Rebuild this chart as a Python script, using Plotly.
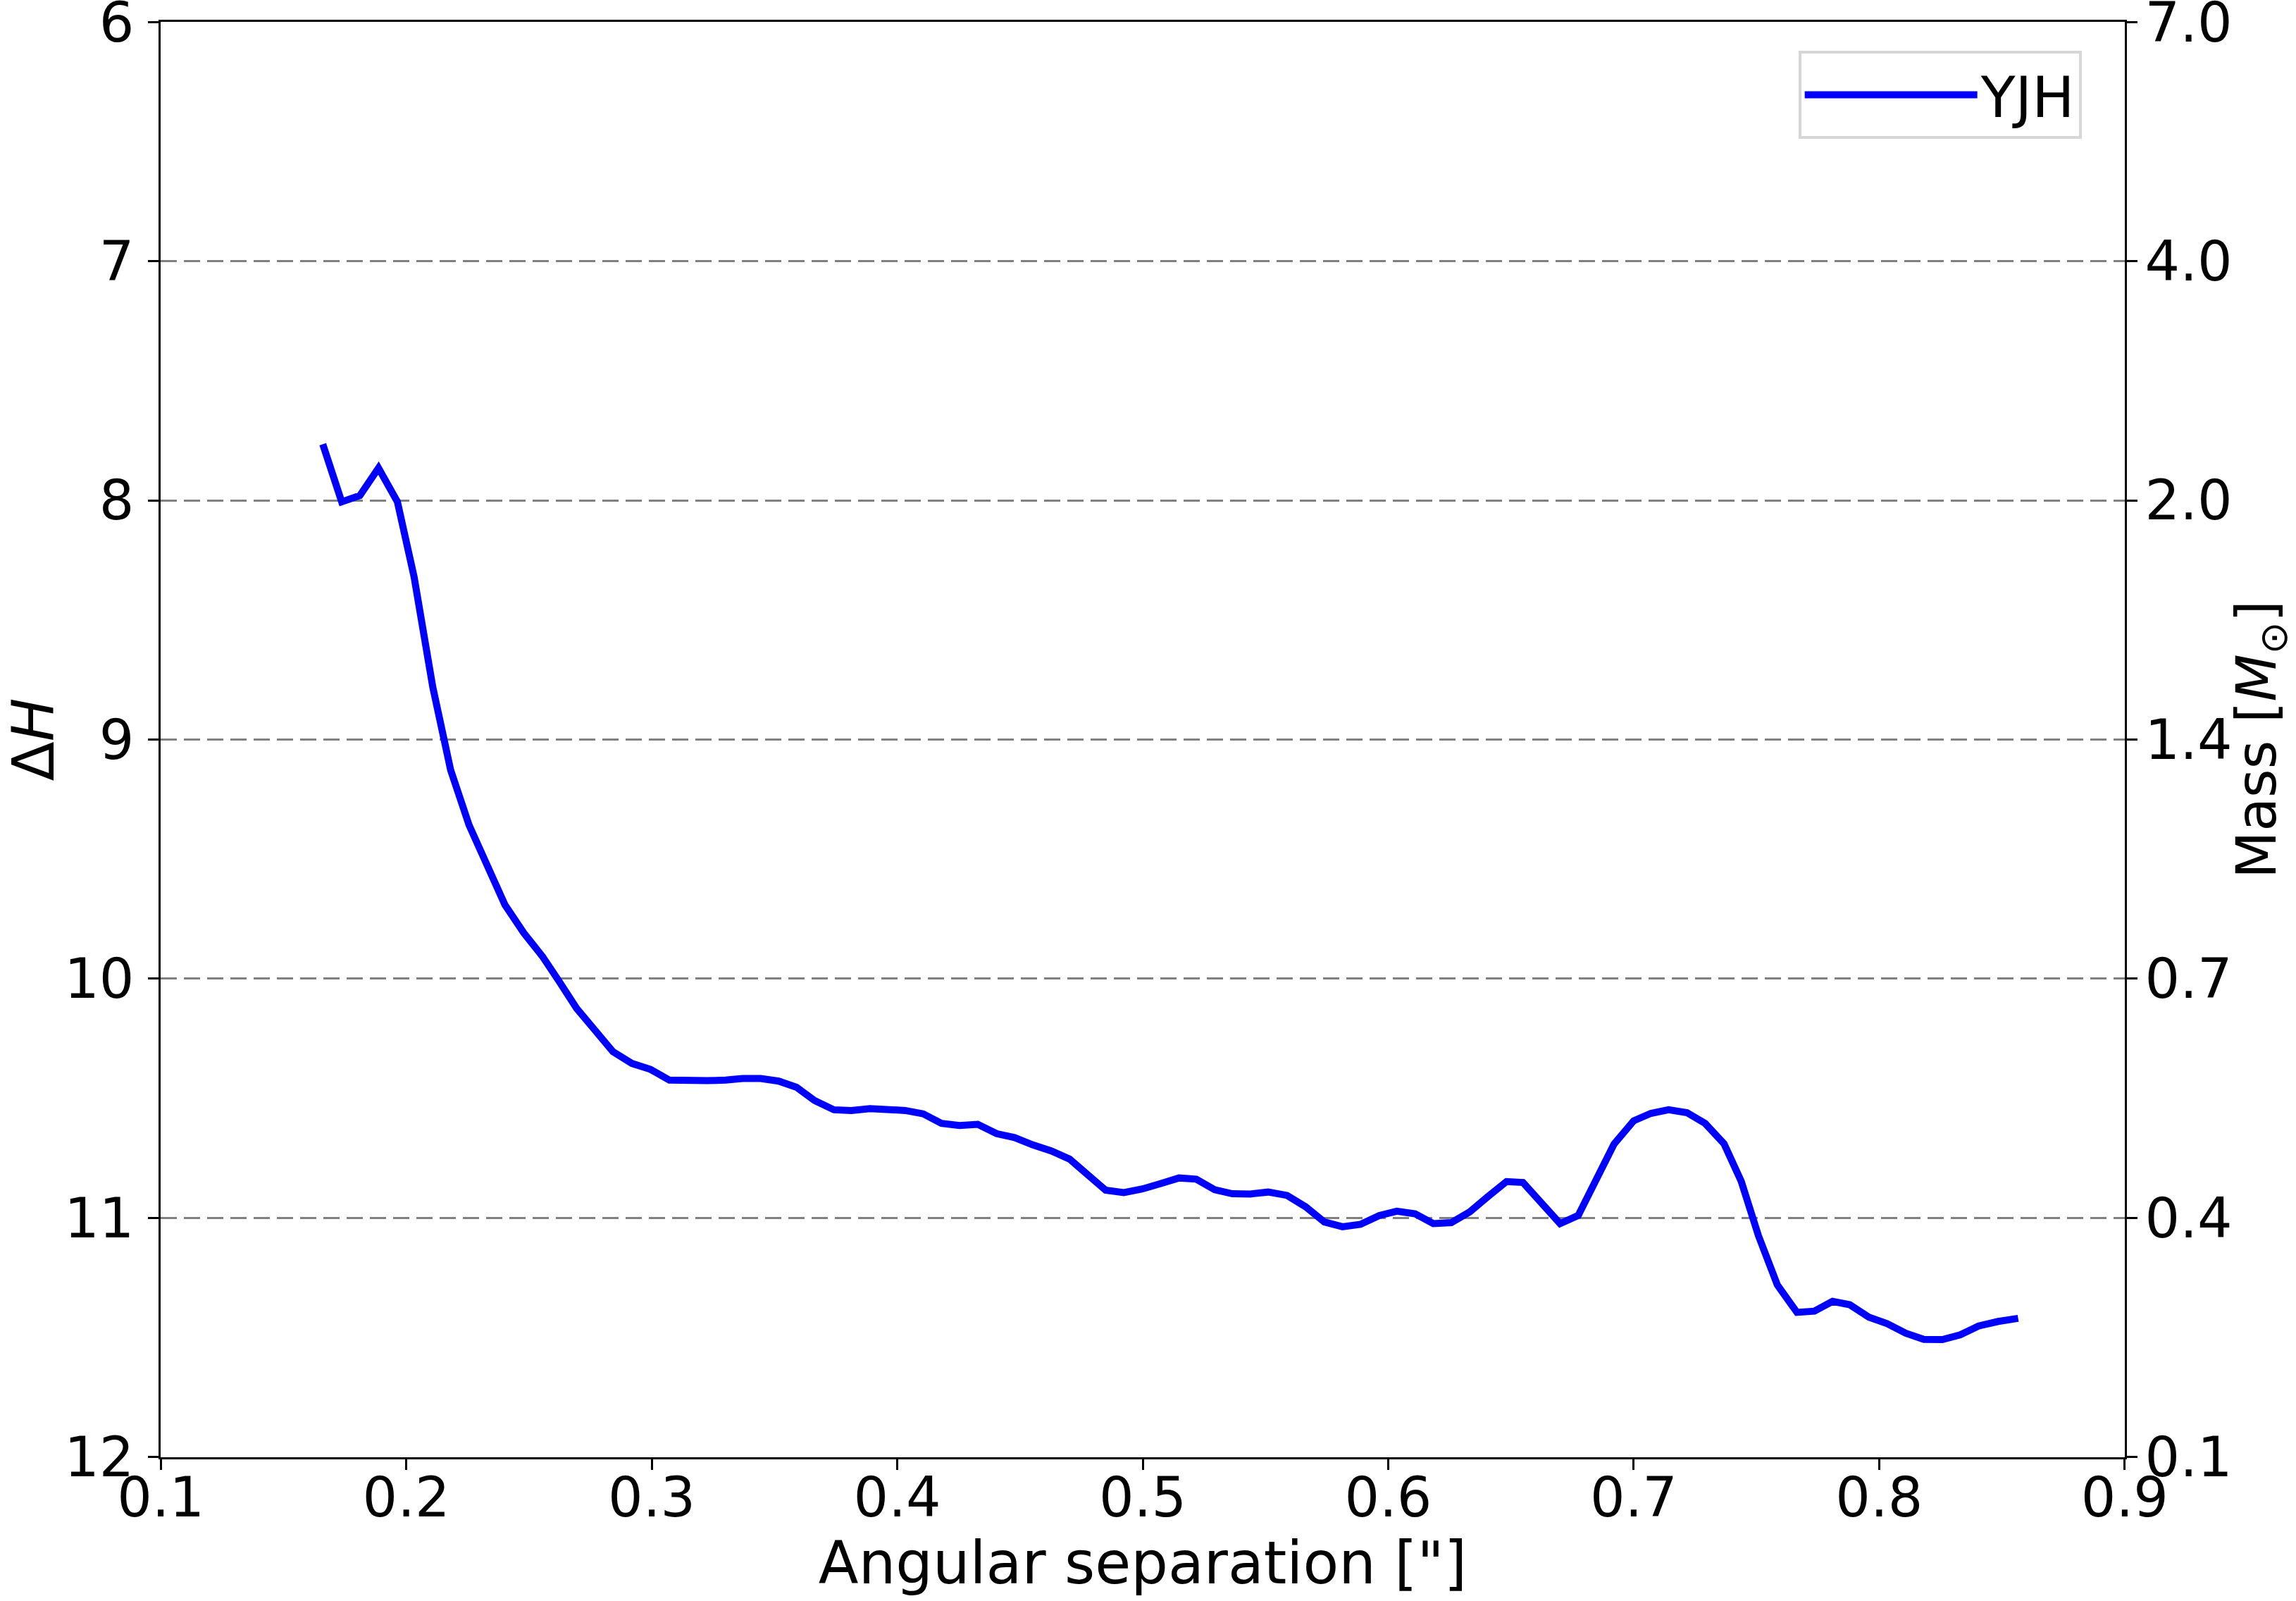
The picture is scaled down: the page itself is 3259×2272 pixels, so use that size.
import plotly.graph_objects as go

# Contrast curve (YJH): angular separation ["] vs ΔH
sep = [0.166, 0.1737, 0.1811, 0.1887, 0.1964, 0.2032, 0.2108, 0.2181, 0.2256, 0.233,
       0.2402, 0.2479, 0.2555, 0.2622, 0.2694, 0.2766, 0.2842, 0.2919, 0.2995, 0.3072,
       0.3148, 0.3225, 0.3301, 0.337, 0.3444, 0.3517, 0.359, 0.3663, 0.3742, 0.3813,
       0.3889, 0.3961, 0.4033, 0.4106, 0.418, 0.4254, 0.4328, 0.4405, 0.4478, 0.4553,
       0.4627, 0.4702, 0.4773, 0.4849, 0.4923, 0.4999, 0.5072, 0.5148, 0.5218, 0.5293,
       0.5365, 0.5439, 0.5511, 0.5588, 0.5663, 0.574, 0.5814, 0.5887, 0.5964, 0.6035,
       0.611, 0.6184, 0.6257, 0.6332, 0.6406, 0.6482, 0.6549, 0.6623, 0.67, 0.6774,
       0.6849, 0.692, 0.7, 0.707, 0.7142, 0.7217, 0.7291, 0.7368, 0.7438, 0.7508,
       0.7585, 0.7665, 0.7736, 0.781, 0.788, 0.7958, 0.8032, 0.8108, 0.8182, 0.8257,
       0.833, 0.8405, 0.8485, 0.8566]
delta_h = [7.765, 8.006, 7.98, 7.865, 8.006, 8.32, 8.78, 9.128, 9.358, 9.525,
           9.691, 9.809, 9.907, 10.01, 10.124, 10.212, 10.305, 10.354, 10.379, 10.424,
           10.428, 10.426, 10.424, 10.417, 10.417, 10.428, 10.454, 10.509, 10.548, 10.551,
           10.543, 10.545, 10.551, 10.565, 10.605, 10.614, 10.609, 10.648, 10.664, 10.695,
           10.72, 10.754, 10.821, 10.884, 10.894, 10.879, 10.857, 10.833, 10.838, 10.882,
           10.899, 10.9, 10.892, 10.906, 10.953, 11.017, 11.037, 11.027, 10.99, 10.972,
           10.983, 11.024, 11.02, 10.975, 10.911, 10.848, 10.852, 10.939, 11.024, 10.99,
           10.843, 10.691, 10.594, 10.563, 10.548, 10.56, 10.605, 10.69, 10.847, 11.074,
           11.28, 11.395, 11.39, 11.349, 11.363, 11.415, 11.442, 11.482, 11.508, 11.509,
           11.489, 11.452, 11.433, 11.42]

dh_ticks = [6, 7, 8, 9, 10, 11, 12]
mass_labels = ["7.0", "4.0", "2.0", "1.4", "0.7", "0.4", "0.1"]
x_ticks = [0.1, 0.2, 0.3, 0.4, 0.5, 0.6, 0.7, 0.8, 0.9]

FONT = "DejaVu Sans"
Y_RANGE = [12.0008, 5.9992]
X_RANGE = [0.09995, 0.90005]

fig = go.Figure()
fig.add_trace(go.Scatter(x=sep, y=delta_h, mode="lines", name="YJH",
                         line=dict(color="#0000ff", width=10)))
# invisible copy to activate the right-hand (mass) axis
fig.add_trace(go.Scatter(x=sep, y=delta_h, mode="lines", yaxis="y2", showlegend=False,
                         hoverinfo="skip", line=dict(color="rgba(0,0,0,0)", width=1)))

axis_common = dict(showline=True, linecolor="black", linewidth=3, ticks="outside",
                   ticklen=15, tickwidth=3, tickcolor="black", zeroline=False,
                   automargin=False, ticklabeloverflow="allow",
                   tickfont=dict(family=FONT, size=78, color="black"))

fig.update_layout(
    width=3259, height=2272,
    paper_bgcolor="white", plot_bgcolor="white",
    margin=dict(l=228, r=243, t=31, b=204),
    font=dict(family=FONT, color="black"),
    xaxis=dict(range=X_RANGE, tickvals=x_ticks, ticktext=[f"{v:.1f}" for v in x_ticks],
               showgrid=False, mirror=True, ticklabelstandoff=-28,
               title=dict(text='Angular separation ["]', font=dict(family=FONT, size=83)),
               **axis_common),
    yaxis=dict(range=Y_RANGE, tickvals=dh_ticks, ticktext=[str(v) for v in dh_ticks],
               showgrid=True, gridcolor="#808080", gridwidth=2.5, griddash="23px,10px",
               ticklabelstandoff=4,
               title=dict(text="Δ<i>H</i>", font=dict(family=FONT, size=82)),
               **axis_common),
    yaxis2=dict(range=Y_RANGE, tickvals=dh_ticks, ticktext=mass_labels, overlaying="y",
                side="right", showgrid=False, ticklabelstandoff=-5,
                title=dict(text="Mass [<i>M</i><sub>⊙</sub>]", font=dict(family=FONT, size=78)),
                **axis_common),
    showlegend=True,
    legend=dict(x=0.978, y=0.9799, xanchor="right", yanchor="top",
                bgcolor="white", bordercolor="#d6d6d6", borderwidth=4,
                font=dict(family=FONT, size=80, color="black"), itemwidth=245),
)

fig.write_html("out.html", config={"displayModeBar": False},
               post_script="document.body.style.margin='0';")
